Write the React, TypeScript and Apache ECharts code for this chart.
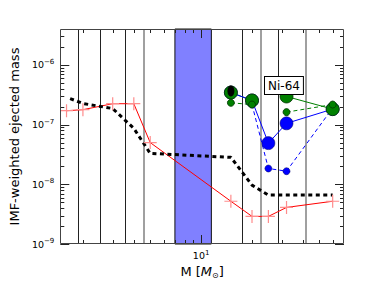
import React, { useEffect, useRef } from "react";
import * as echarts from "echarts";

// ---- data ----
const redMass = [1.6, 2, 3, 4, 5, 15, 20, 25, 32, 60];
const redYield = [1.71e-7, 1.78e-7, 2.24e-7, 2.24e-7, 5.0e-8, 5.2e-9, 2.9e-9, 2.9e-9, 4.1e-9, 5.2e-9];

const dottedMass = [1.68, 2, 3, 4, 5, 15, 20, 25, 60];
const dottedYield = [2.73e-7, 2.26e-7, 1.86e-7, 8.65e-8, 3.3e-8, 2.83e-8, 9.7e-9, 6.6e-9, 6.6e-9];

const massiveMass = [15, 20, 25, 32, 60];
const greenBig: (number | null)[] = [3.45e-7, 2.54e-7, null, 2.96e-7, 1.82e-7];
const greenSmall: (number | null)[] = [2.32e-7, 2.17e-7, null, 1.62e-7, 2.17e-7];
const blueBig: (number | null)[] = [3.45e-7, 2.54e-7, 4.9e-8, 1.05e-7, 1.82e-7];
const blueSmall: (number | null)[] = [null, 2.17e-7, 1.84e-8, 1.66e-8, 1.9e-7];
const blackMass = [15];
const blackYield = [3.66e-7];

const blackLineMass = [1.88, 2.52, 3.57, 17.4, 28.7];
const grayLineMass = [4.55, 22.5, 41.8];
const bandMass = [7.0, 11.5];

const xRange = [1.47, 70];
const yRange = [1e-9, 4e-6];
const xMajorTicks = [10];
const xMinorTicks = [2, 3, 4, 5, 6, 7, 8, 9, 20, 30, 40, 50, 60];
const yMajorTicks = [1e-9, 1e-8, 1e-7, 1e-6];
const yMinorMantissas = [2, 3, 4, 5, 6, 7, 8, 9];
const yDecades = [1e-9, 1e-8, 1e-7, 1e-6];

const FONT = "DejaVu Sans";

const pairs = (xs: number[], ys: (number | null)[]) =>
  xs.map((x, i) => [x, ys[i] == null ? "-" : ys[i]]);

const expLabel = (v: number) => {
  const e = Math.log10(v);
  const r = Math.round(e);
  if (Math.abs(e - r) > 1e-6) return "";
  const s = r < 0 ? "\u2212" + -r : String(r);
  return `{m|10}{s|${s}}`;
};

const labelRich = {
  m: { fontSize: 9.5, fontFamily: FONT, color: "#000" },
  s: { fontSize: 7, fontFamily: FONT, color: "#000", padding: [0, 0, 6, 0] },
};

const ticksItem = (params: any, api: any) => {
  const cs = params.coordSys;
  const L = cs.x, T = cs.y, R = cs.x + cs.width, B = cs.y + cs.height;
  const kids: any[] = [];
  const seg = (x1: number, y1: number, x2: number, y2: number) =>
    kids.push({ type: "line", shape: { x1, y1, x2, y2 }, style: { stroke: "#222", lineWidth: 1 } });
  const px = (v: number) => Math.round(api.coord([v, yRange[0]])[0]) + 0.5;
  const py = (v: number) => Math.round(api.coord([xRange[0], v])[1]) + 0.5;
  xMinorTicks.forEach((v) => { const x = px(v); seg(x, B, x, B - 4); seg(x, T, x, T + 4); });
  xMajorTicks.forEach((v) => { const x = px(v); seg(x, B, x, B - 9); seg(x, T, x, T + 9); });
  yDecades.forEach((d) =>
    yMinorMantissas.forEach((m) => {
      const v = d * m;
      if (v >= yRange[1]) return;
      const y = py(v); seg(L, y, L + 4, y); seg(R, y, R - 4, y);
    })
  );
  yMajorTicks.forEach((v) => { const y = py(v); seg(L, y, L + 9, y); seg(R, y, R - 9, y); });
  kids.push({
    type: "rect",
    shape: { x: Math.round(L) + 0.5, y: Math.round(T) + 0.5, width: Math.round(cs.width) - 1, height: Math.round(cs.height) - 1 },
    style: { fill: "none", stroke: "#444", lineWidth: 1 },
  });
  return { type: "group", children: kids };
};

const crossPath = "path://M5,0L5,10M0,5L10,5";

const option: any = {
  animation: false,
  textStyle: { fontFamily: FONT },
  grid: { left: 57, right: 38, top: 29, bottom: 44, containLabel: false },
  xAxis: {
    type: "log",
    logBase: 10,
    min: xRange[0],
    max: xRange[1],
    axisLine: { show: false },
    axisTick: { show: false },
    splitLine: { show: false },
    axisLabel: { formatter: expLabel, rich: labelRich, margin: 5, showMinLabel: false, showMaxLabel: false },
    name: "{n|M [}{i|M}{sub|\u2299}{n|]}",
    nameLocation: "middle",
    nameGap: 19,
    nameTextStyle: {
      rich: {
        n: { fontSize: 13, fontFamily: FONT, color: "#000" },
        i: { fontSize: 13, fontFamily: FONT, fontStyle: "italic", color: "#000" },
        sub: { fontSize: 8, fontFamily: FONT, color: "#000", padding: [7, 0, 0, 0] },
      },
    },
  },
  yAxis: {
    type: "log",
    logBase: 10,
    min: yRange[0],
    max: yRange[1],
    axisLine: { show: false },
    axisTick: { show: false },
    splitLine: { show: false },
    axisLabel: { formatter: expLabel, rich: labelRich, margin: 6, showMaxLabel: false },
    name: "IMF-weighted ejected mass",
    nameLocation: "middle",
    nameRotate: 90,
    nameGap: 28,
    nameTextStyle: { fontSize: 13, fontFamily: FONT, color: "#000" },
  },
  series: [
    {
      type: "line",
      name: "red",
      data: pairs(redMass, redYield),
      lineStyle: { color: "#ff0000", width: 1 },
      symbol: crossPath,
      symbolSize: 13,
      itemStyle: { color: "rgba(0,0,0,0)", borderColor: "#ff8c8c", borderWidth: 1.2 },
      z: 3,
      markArea: {
        silent: true,
        z: 0,
        itemStyle: { color: "#8080ff", borderColor: "#111", borderWidth: 1, opacity: 1 },
        data: [[{ xAxis: bandMass[0] }, { xAxis: bandMass[1] }]],
      },
      markLine: {
        silent: true,
        z: 1,
        symbol: ["none", "none"],
        label: { show: false },
        data: [
          ...blackLineMass.map((v) => ({ xAxis: v, lineStyle: { color: "#222", width: 1, type: "solid" } })),
          ...grayLineMass.map((v) => ({ xAxis: v, lineStyle: { color: "#a0a0a0", width: 2, type: "solid" } })),
        ],
      },
    },
    {
      type: "line",
      name: "dotted",
      data: pairs(dottedMass, dottedYield),
      symbol: "none",
      lineStyle: { color: "#000", width: 3, type: [4, 3.5] },
      z: 3,
    },
    {
      type: "line",
      name: "greenBigLine",
      data: pairs(massiveMass, greenBig),
      symbol: "none",
      lineStyle: { color: "#008000", width: 1 },
      z: 3,
    },
    {
      type: "line",
      name: "greenSmallLine",
      data: pairs(massiveMass, greenSmall),
      symbol: "none",
      lineStyle: { color: "#008000", width: 1, type: [4, 3] },
      z: 3,
    },
    {
      type: "line",
      name: "blueBig",
      data: pairs(massiveMass, blueBig),
      symbol: "circle",
      symbolSize: 13,
      showAllSymbol: true,
      lineStyle: { color: "#0000ff", width: 1 },
      itemStyle: { color: "#0000ff", borderColor: "#000060", borderWidth: 0.5 },
      z: 3,
    },
    {
      type: "line",
      name: "blueSmall",
      data: pairs(massiveMass, blueSmall),
      symbol: "circle",
      symbolSize: 7,
      showAllSymbol: true,
      lineStyle: { color: "#0000ff", width: 1, type: [4, 3] },
      itemStyle: { color: "#0000ff", borderColor: "#000060", borderWidth: 0.5 },
      z: 3,
    },
    {
      type: "scatter",
      name: "greenBig",
      data: pairs(massiveMass, greenBig),
      symbol: "circle",
      symbolSize: 13,
      itemStyle: { color: "#008000", borderColor: "#003300", borderWidth: 0.8, opacity: 1 },
      z: 4,
    },
    {
      type: "scatter",
      name: "greenSmall",
      data: pairs(massiveMass, greenSmall),
      symbol: "circle",
      symbolSize: 7,
      itemStyle: { color: "#008000", borderColor: "#003300", borderWidth: 0.8, opacity: 1 },
      z: 4,
    },
    {
      type: "scatter",
      name: "black",
      data: pairs(blackMass, blackYield),
      symbol: "circle",
      symbolSize: [7, 11],
      itemStyle: { color: "#000", opacity: 1 },
      z: 5,
    },
    {
      type: "custom",
      name: "frame",
      coordinateSystem: "cartesian2d",
      data: [[10, 1e-8]],
      renderItem: ticksItem,
      silent: true,
      z: 6,
    },
  ],
  graphic: [
    {
      type: "text",
      left: 264,
      top: 76,
      z: 100,
      style: {
        text: "Ni-64",
        fontSize: 12,
        fontFamily: FONT,
        fill: "#000",
        backgroundColor: "#fff",
        borderColor: "#000",
        borderWidth: 1,
        padding: [3, 3, 2, 3],
      },
    },
  ],
};

export default function App() {
  const ref = useRef<HTMLDivElement>(null);
  useEffect(() => {
    const chart = echarts.init(ref.current!, null, { renderer: "svg" });
    chart.setOption(option);
    return () => chart.dispose();
  }, []);
  return (
    <div
      ref={ref}
      style={{ position: "fixed", left: 0, top: 0, width: 382, height: 288, background: "#fff" }}
    />
  );
}
